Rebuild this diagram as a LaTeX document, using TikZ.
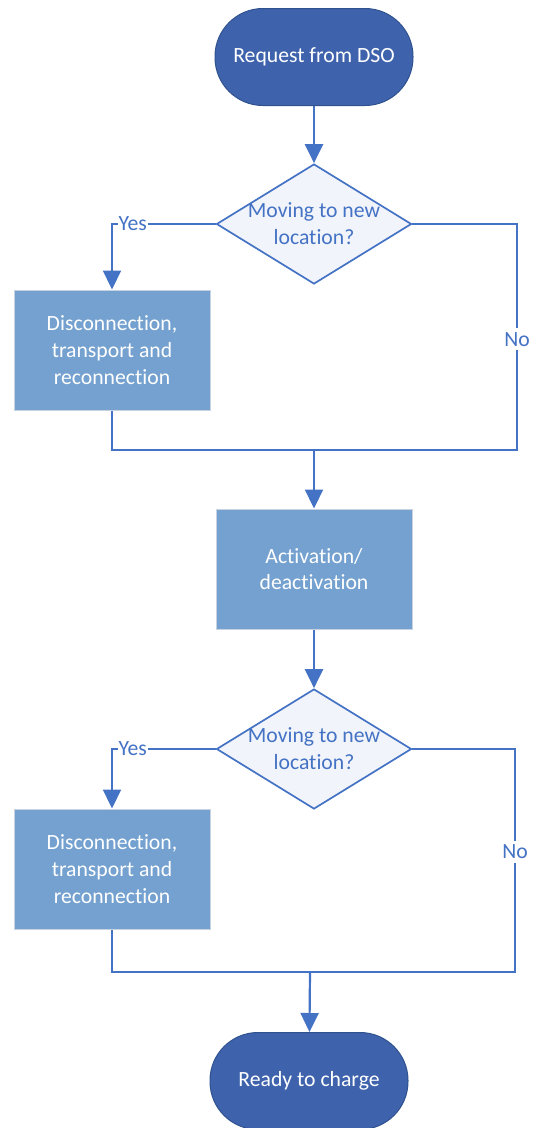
\documentclass[tikz,border=0pt]{standalone}
\usepackage{fontspec}
\setmainfont{Carlito}[Ligatures={NoCommon}]
\usetikzlibrary{shapes.geometric,arrows.meta}
\definecolor{lineblue}{RGB}{68,114,196}
\definecolor{termfill}{RGB}{62,99,172}
\definecolor{termedge}{RGB}{47,82,143}
\definecolor{boxfill}{RGB}{116,161,207}
\definecolor{boxedge}{RGB}{200,210,225}
\definecolor{decfill}{RGB}{241,244,250}
\begin{document}
\begin{tikzpicture}[x=1pt,y=-1pt,
  every node/.style={font=\fontsize{21.7pt}{26.8pt}\selectfont},
  term/.style={draw=termedge,line width=1pt,fill=termfill,text=white,
    rounded corners=48pt,minimum width=198pt,minimum height=97pt,inner sep=0pt},
  stepbox/.style={draw=boxedge,line width=1pt,fill=boxfill,text=white,align=center,
    minimum width=196pt,minimum height=120pt,inner sep=0pt},
  decision/.style={diamond,draw=lineblue,line width=1.7pt,fill=decfill,
    minimum width=195pt,minimum height=120pt,inner sep=0pt},
  dtext/.style={text=lineblue,align=center,inner sep=0pt},
  lbl/.style={fill=white,text=lineblue,inner xsep=1pt,inner ysep=4pt},
  conn/.style={draw=lineblue,line width=2.2pt},
  arr/.style={conn,-{Triangle[width=18pt,length=19pt]}}]
\useasboundingbox (0,0) rectangle (534,1128);

% nodes
\node[term] (start) at (314,57) {Request from DSO};
\node[decision] (d1) at (314,224) {};
\node[dtext] (d1t) at (d1) {Moving to new\\location?};
\node[stepbox] (b1) at (112,350) {Disconnection,\\transport and\\reconnection};
\coordinate (m1) at (314,450);
\coordinate (r1) at (517,450);
\node[stepbox] (b2) at (314,569) {Activation/\\deactivation};
\node[decision] (d2) at (314,749) {};
\node[dtext] (d2t) at (d2) {Moving to new\\location?};
\node[stepbox] (b3) at (112,869) {Disconnection,\\transport and\\reconnection};
\coordinate (m2) at (310,972);
\coordinate (r2) at (515,972);
\node[term] (stop) at (309,1081) {Ready to charge};

% connectors, upper part
\draw[arr] (start) -- (d1);
\draw[arr] (d1.west) -| node[lbl,pos=0.4] {Yes} (b1.north);
\draw[conn] (b1.south) |- (r1) |- node[lbl,pos=0.245] {No} (d1.east);
\draw[arr] (m1) -- (b2);
\draw[arr] (b2) -- (d2);

% connectors, lower part
\draw[arr] (d2.west) -| node[lbl,pos=0.4] {Yes} (b3.north);
\draw[conn] (b3.south) |- (r2) |- node[lbl,pos=0.27] {No} (d2.east);
\draw[arr] (m2) -- (stop);
\end{tikzpicture}
\end{document}
